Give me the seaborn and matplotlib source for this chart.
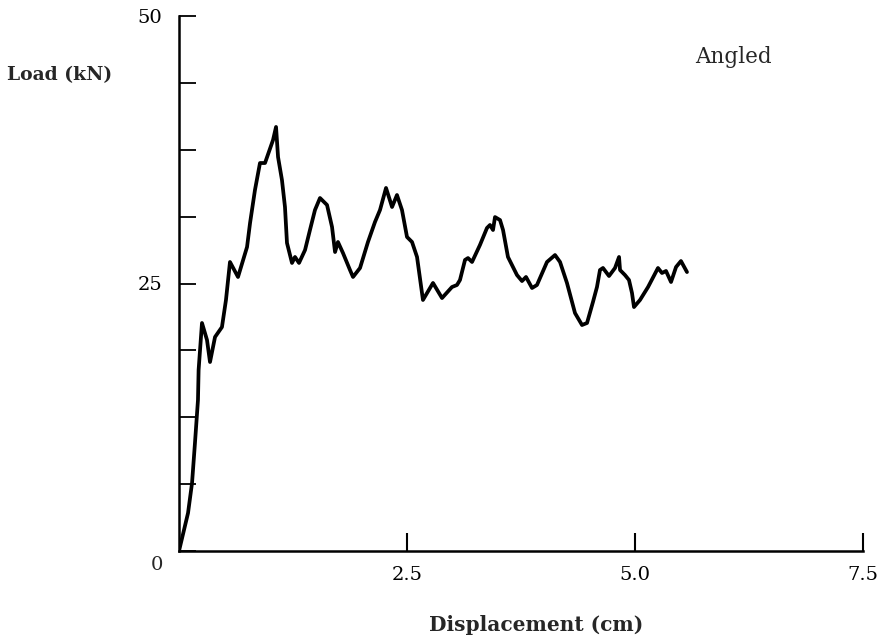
import numpy as np
import pandas as pd
import matplotlib
matplotlib.use("Agg")
import matplotlib.pyplot as plt
import seaborn as sns

displacement_cm = [0.000, 0.099, 0.143, 0.175, 0.208, 0.215, 0.252, 0.307, 0.340, 0.395,
                   0.471, 0.515, 0.559, 0.647, 0.746, 0.779, 0.833, 0.888, 0.943, 1.031,
                   1.064, 1.086, 1.129, 1.162, 1.184, 1.239, 1.272, 1.316, 1.382, 1.436,
                   1.491, 1.546, 1.623, 1.678, 1.711, 1.743, 1.798, 1.875, 1.908, 1.985,
                   2.072, 2.149, 2.204, 2.270, 2.336, 2.390, 2.445, 2.500, 2.555, 2.610,
                   2.675, 2.785, 2.884, 2.993, 3.048, 3.081, 3.136, 3.169, 3.213, 3.300,
                   3.377, 3.410, 3.443, 3.465, 3.520, 3.553, 3.607, 3.706, 3.761, 3.805,
                   3.871, 3.925, 4.035, 4.123, 4.178, 4.254, 4.342, 4.419, 4.474, 4.539,
                   4.583, 4.616, 4.649, 4.715, 4.781, 4.825, 4.836, 4.890, 4.934, 4.967,
                   4.989, 5.055, 5.143, 5.252, 5.296, 5.340, 5.395, 5.450, 5.504, 5.570]
load_kn = [0.00, 3.55, 6.36, 10.09, 14.11, 16.92, 21.31, 19.72, 17.66, 20.00,
           20.93, 23.46, 27.01, 25.61, 28.41, 30.65, 33.74, 36.26, 36.26, 38.41,
           39.63, 36.82, 34.67, 32.15, 28.79, 26.92, 27.48, 26.92, 28.13, 30.00,
           31.87, 32.99, 32.34, 30.28, 27.94, 28.88, 27.85, 26.26, 25.61, 26.45,
           28.88, 30.75, 31.87, 33.93, 32.15, 33.27, 31.87, 29.35, 28.88, 27.48,
           23.46, 25.05, 23.64, 24.67, 24.86, 25.33, 27.20, 27.38, 27.01, 28.60,
           30.19, 30.47, 30.00, 31.21, 30.93, 30.00, 27.48, 25.79, 25.23, 25.61,
           24.58, 24.86, 27.01, 27.66, 27.01, 25.05, 22.24, 21.12, 21.31, 23.27,
           24.67, 26.26, 26.45, 25.70, 26.45, 27.48, 26.26, 25.79, 25.33, 24.11,
           22.80, 23.46, 24.67, 26.45, 25.98, 26.17, 25.14, 26.54, 27.10, 26.07]

x_ticks = [2.5, 5.0, 7.5]
x_tick_labels = ["2.5", "5.0", "7.5"]
y_ticks = [0, 6.25, 12.5, 18.75, 25, 31.25, 37.5, 43.75, 50]
y_tick_labels = ["", "", "", "", "25", "", "", "", "50"]

sns.set_style("ticks")
plt.rcParams["font.family"] = ["DejaVu Serif", "DejaVu Sans"]

df = pd.DataFrame({"Displacement (cm)": displacement_cm, "Load (kN)": load_kn})

fig = plt.figure(figsize=(8.94, 6.4), dpi=100)
ax = fig.add_axes([179 / 894, 1 - 551 / 640, (863 - 179) / 894, (551 - 16) / 640])

sns.lineplot(data=df, x="Displacement (cm)", y="Load (kN)", sort=False,
             estimator=None, color="black", linewidth=2.7, ax=ax)

ax.set_xlim(0, 7.5)
ax.set_ylim(0, 50)
sns.despine(ax=ax)
for s in ("left", "bottom"):
    ax.spines[s].set_linewidth(1.8)
    ax.spines[s].set_color("black")

ax.set_xticks(x_ticks)
ax.set_xticklabels(x_tick_labels)
ax.set_yticks(y_ticks)
ax.set_yticklabels(y_tick_labels)
ax.tick_params(axis="x", direction="in", length=13, width=1.5, pad=11,
               labelsize=14, colors="black")
ax.tick_params(axis="y", direction="in", length=12, width=1.3, pad=12,
               labelsize=14, colors="black")

ax.set_xlabel("")
ax.set_ylabel("")
fig.text(7 / 894, 1 - 75 / 640, "Load (kN)", fontweight="bold", fontsize=13.5,
         ha="left", va="center")
fig.text(536 / 894, 1 - 625 / 640, "Displacement (cm)", fontweight="bold",
         fontsize=14.5, ha="center", va="center")
fig.text(695 / 894, 1 - 57 / 640, "Angled", fontsize=15.5, ha="left", va="center")
fig.text(157 / 894, 1 - 565 / 640, "0", fontsize=14, ha="center", va="center")

fig.savefig("out.png", dpi=100)
